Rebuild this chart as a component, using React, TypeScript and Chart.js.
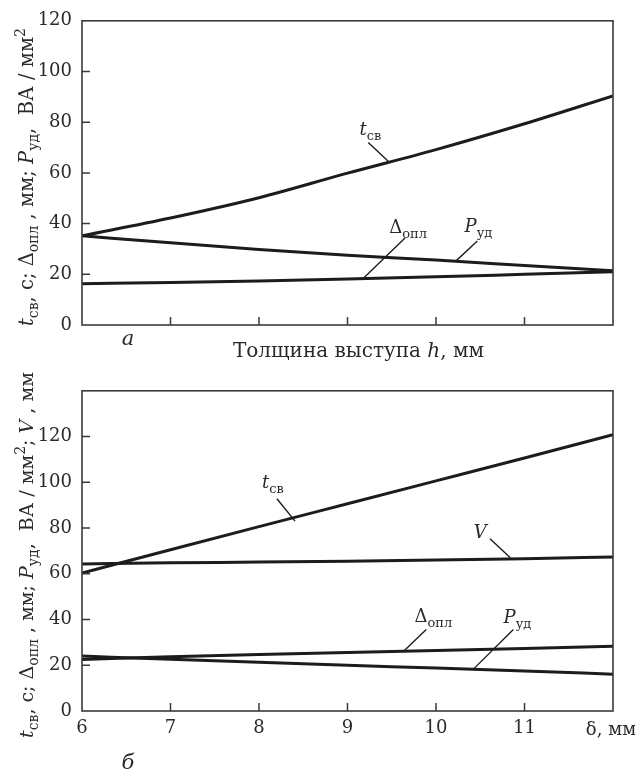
import React, { useEffect, useRef } from 'react';
import { Chart, registerables } from 'chart.js';

Chart.register(...registerables);

// ---------- data ----------
// (a) thickness of the projection h (unlabelled x scale, 6 equal intervals)
const topX = [0, 1, 2, 3, 4, 5, 6];
const topTsv = [35.2, 42.2, 50.2, 59.9, 69.2, 79.4, 90.4];
const topPud = [35.2, 32.4, 29.8, 27.5, 25.6, 23.5, 21.4];
const topDopl = [16.3, 16.8, 17.4, 18.1, 19.0, 20.0, 21.0];
const topYTicks = [0, 20, 40, 60, 80, 100, 120];

// (б) thickness δ, mm
const botX = [6, 7, 8, 9, 10, 11, 12];
const botTsv = [60.3, 70.5, 80.6, 90.6, 100.6, 110.6, 120.8];
const botV = [64.3, 64.8, 65.1, 65.5, 66.0, 66.6, 67.3];
const botDopl = [22.5, 23.7, 24.7, 25.6, 26.4, 27.3, 28.3];
const botPud = [24.0, 22.6, 21.3, 20.0, 18.8, 17.5, 16.1];
const botYTicks = [0, 20, 40, 60, 80, 100, 120];
const botXTickLabels = ['6', '7', '8', '9', '10', '11', 'δ, мм'];

// ---------- styling ----------
const FONT = '"DejaVu Serif", "Liberation Serif", serif';
const INK = '#2a2a2a';
const LINE = '#1c1c1c';

type Seg = { t: string; it?: boolean; sub?: boolean; sup?: boolean };

function segFont(s: Seg, size: number) {
  const sz = s.sub || s.sup ? Math.round(size * 0.72) : size;
  return `${s.it ? 'italic ' : ''}${sz}px ${FONT}`;
}

function richWidth(ctx: CanvasRenderingContext2D, segs: Seg[], size: number) {
  let w = 0;
  for (const s of segs) {
    ctx.font = segFont(s, size);
    w += ctx.measureText(s.t).width;
  }
  return w;
}

function drawRich(
  ctx: CanvasRenderingContext2D,
  segs: Seg[],
  cx: number,
  cy: number,
  size: number,
  rotate = false
) {
  ctx.save();
  ctx.translate(cx, cy);
  if (rotate) ctx.rotate(-Math.PI / 2);
  ctx.fillStyle = INK;
  ctx.textAlign = 'left';
  ctx.textBaseline = 'alphabetic';
  const w = richWidth(ctx, segs, size);
  let x = -w / 2;
  const base = size * 0.35;
  for (const s of segs) {
    ctx.font = segFont(s, size);
    const dy = s.sub ? size * 0.27 : s.sup ? -size * 0.42 : 0;
    ctx.fillText(s.t, x, base + dy);
    x += ctx.measureText(s.t).width;
  }
  ctx.restore();
}

const segTsv: Seg[] = [{ t: 't', it: true }, { t: 'св', sub: true }];
const segDopl: Seg[] = [{ t: 'Δ' }, { t: 'опл', sub: true }];
const segPud: Seg[] = [{ t: 'P', it: true }, { t: 'уд', sub: true }];
const segV: Seg[] = [{ t: 'V', it: true }];

const yTitleTop: Seg[] = [
  { t: 't', it: true }, { t: 'св', sub: true }, { t: ', с; ' },
  { t: 'Δ' }, { t: 'опл', sub: true }, { t: ' , мм; ' },
  { t: 'P', it: true }, { t: 'уд', sub: true }, { t: ',  ВА / мм' }, { t: '2', sup: true },
];
const yTitleBot: Seg[] = [
  ...yTitleTop,
  { t: '; ' }, { t: 'V', it: true }, { t: ' , мм' },
];

type Note = { segs: Seg[]; at: [number, number]; from: [number, number]; to: [number, number] };

type PlotCfg = {
  x: number[];
  series: number[][];
  xMin: number;
  xMax: number;
  yMax: number;
  yTicks: number[];
  xTickLabels: string[] | null;
  height: number;
  padTop: number;
  xAxisH: number;
  yTitle: Seg[];
  yTitleSize: number;
  yTitleCy: number;
  letter: string;
  letterDy: number;
  xTitle: Seg[] | null;
  notes: Note[];
};

function makePlugin(cfg: PlotCfg) {
  return {
    id: 'decor',
    afterDraw(chart: any) {
      const ctx: CanvasRenderingContext2D = chart.ctx;
      const a = chart.chartArea;
      const xs = chart.scales.x;
      const ys = chart.scales.y;
      ctx.save();
      // frame
      ctx.strokeStyle = '#3a3a3a';
      ctx.lineWidth = 1.6;
      ctx.strokeRect(a.left, a.top, a.right - a.left, a.bottom - a.top);
      // inward ticks
      ctx.lineWidth = 1.5;
      ctx.beginPath();
      for (const v of cfg.yTicks) {
        if (v <= 0 || v >= cfg.yMax) continue;
        const py = ys.getPixelForValue(v);
        ctx.moveTo(a.left, py);
        ctx.lineTo(a.left + 8, py);
      }
      for (const v of cfg.x) {
        if (v <= cfg.xMin || v >= cfg.xMax) continue;
        const px = xs.getPixelForValue(v);
        ctx.moveTo(px, a.bottom);
        ctx.lineTo(px, a.bottom - 8);
      }
      ctx.stroke();
      // curve labels with leader lines
      ctx.strokeStyle = LINE;
      ctx.lineWidth = 1.4;
      for (const n of cfg.notes) {
        ctx.beginPath();
        ctx.moveTo(xs.getPixelForValue(n.from[0]), ys.getPixelForValue(n.from[1]));
        ctx.lineTo(xs.getPixelForValue(n.to[0]), ys.getPixelForValue(n.to[1]));
        ctx.stroke();
        drawRich(ctx, n.segs, xs.getPixelForValue(n.at[0]), ys.getPixelForValue(n.at[1]), 18);
      }
      // last x label (units)
      if (cfg.xTickLabels) {
        const last = cfg.xTickLabels[cfg.xTickLabels.length - 1];
        drawRich(ctx, [{ t: last }], xs.getPixelForValue(cfg.xMax) - 2, a.bottom + 18, 18);
      }
      // y title
      drawRich(ctx, cfg.yTitle, 26, cfg.yTitleCy, cfg.yTitleSize, true);
      // panel letter
      drawRich(ctx, [{ t: cfg.letter, it: true }], a.left + 46, a.bottom + cfg.letterDy, 21);
      // x title
      if (cfg.xTitle) {
        drawRich(ctx, cfg.xTitle, (a.left + a.right) / 2 + 11, a.bottom + 25, 20);
      }
      ctx.restore();
    },
  };
}

function buildConfig(cfg: PlotCfg): any {
  return {
    type: 'line',
    data: {
      datasets: cfg.series.map((s) => ({
        data: cfg.x.map((x, i) => ({ x, y: s[i] })),
        borderColor: LINE,
        borderWidth: 3,
        pointRadius: 0,
        fill: false,
        cubicInterpolationMode: 'monotone',
      })),
    },
    options: {
      responsive: false,
      maintainAspectRatio: false,
      animation: false,
      devicePixelRatio: 1,
      layout: { padding: { top: cfg.padTop, right: 22, left: 0, bottom: 0 } },
      plugins: { legend: { display: false }, tooltip: { enabled: false } },
      scales: {
        x: {
          type: 'linear',
          min: cfg.xMin,
          max: cfg.xMax,
          ticks: {
            stepSize: 1,
            display: !!cfg.xTickLabels,
            font: { size: 18, family: FONT },
            color: INK,
            padding: 7,
            maxRotation: 0,
            autoSkip: false,
            callback: (v: number) => {
              if (!cfg.xTickLabels) return '';
              const i = cfg.x.indexOf(v);
              if (i < 0 || i === cfg.x.length - 1) return '';
              return cfg.xTickLabels[i];
            },
          },
          grid: { display: false, drawTicks: false },
          border: { display: false },
          afterFit: (s: any) => {
            s.height = cfg.xAxisH;
            s.paddingLeft = 0;
            s.paddingRight = 0;
          },
        },
        y: {
          min: 0,
          max: cfg.yMax,
          ticks: {
            stepSize: 20,
            font: { size: 18, family: FONT },
            color: INK,
            padding: 10,
            callback: (v: number) => (cfg.yTicks.includes(v) ? String(v) : ''),
          },
          grid: { display: false, drawTicks: false },
          border: { display: false },
          afterFit: (s: any) => {
            s.width = 82;
          },
        },
      },
    },
    plugins: [makePlugin(cfg)],
  };
}

function Plot({ cfg }: { cfg: PlotCfg }) {
  const ref = useRef<HTMLCanvasElement>(null);
  useEffect(() => {
    const chart = new Chart(ref.current as HTMLCanvasElement, buildConfig(cfg));
    return () => chart.destroy();
  }, [cfg]);
  return (
    <canvas
      ref={ref}
      width={635}
      height={cfg.height}
      style={{ display: 'block', width: 635, height: cfg.height }}
    />
  );
}

const topCfg: PlotCfg = {
  x: topX,
  series: [topTsv, topPud, topDopl],
  xMin: 0,
  xMax: 6,
  yMax: 120,
  yTicks: topYTicks,
  xTickLabels: null,
  height: 370,
  padTop: 10,
  xAxisH: 45,
  yTitle: yTitleTop,
  yTitleSize: 19.5,
  yTitleCy: 177,
  letter: 'a',
  letterDy: 13,
  xTitle: [{ t: 'Толщина выступа ' }, { t: 'h', it: true }, { t: ', мм' }],
  notes: [
    { segs: segTsv, at: [3.26, 77.3], from: [3.235, 72.0], to: [3.46, 64.6] },
    { segs: segDopl, at: [3.685, 38.9], from: [3.65, 34.3], to: [3.177, 18.3] },
    { segs: segPud, at: [4.48, 39.2], from: [4.467, 33.1], to: [4.218, 25.0] },
  ],
};

const botCfg: PlotCfg = {
  x: botX,
  series: [botTsv, botV, botDopl, botPud],
  xMin: 6,
  xMax: 12,
  yMax: 140,
  yTicks: botYTicks,
  xTickLabels: botXTickLabels,
  height: 405,
  padTop: 12,
  xAxisH: 64,
  yTitle: yTitleBot,
  yTitleSize: 19,
  yTitleCy: 185,
  letter: 'б',
  letterDy: 51,
  xTitle: null,
  notes: [
    { segs: segTsv, at: [8.158, 100.4], from: [8.203, 92.8], to: [8.407, 83.0] },
    { segs: segV, at: [10.5, 78.3], from: [10.61, 75.3], to: [10.84, 67.0] },
    { segs: segDopl, at: [9.97, 41.6], from: [9.89, 35.6], to: [9.64, 26.3] },
    { segs: segPud, at: [10.92, 41.2], from: [10.874, 35.6], to: [10.42, 18.2] },
  ],
};

export default function App() {
  return (
    <div style={{ position: 'absolute', left: 0, top: 0, width: 635, height: 775, background: '#fff' }}>
      <Plot cfg={topCfg} />
      <Plot cfg={botCfg} />
    </div>
  );
}
